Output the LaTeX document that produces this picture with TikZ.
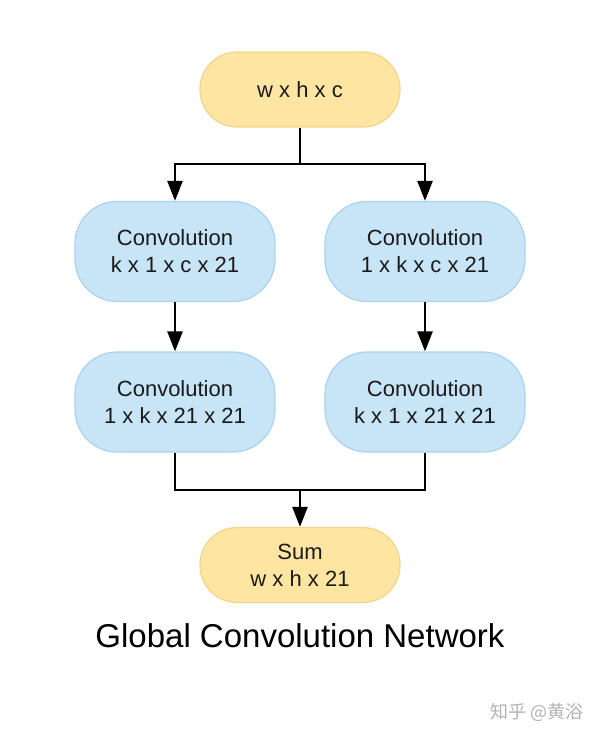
\documentclass[tikz,border=0pt]{standalone}
\usepackage{fontspec}
\setmainfont{Liberation Sans}
\newfontfamily\cjkfont{Noto Sans CJK SC}
\usetikzlibrary{arrows.meta}

\definecolor{sizefill}{HTML}{FEE6A2}
\definecolor{sizeline}{HTML}{F3D48C}
\definecolor{convfill}{HTML}{C8E4F7}
\definecolor{convline}{HTML}{AAD3EE}
\definecolor{textdark}{HTML}{1A1A1A}

\tikzset{
  sizebox/.style={draw=sizeline,fill=sizefill,line width=1.2pt,rounded corners=37pt,
    minimum width=200pt,minimum height=75pt,align=center,text=textdark,
    font=\fontsize{22}{27}\selectfont},
  convbox/.style={draw=convline,fill=convfill,line width=1.2pt,rounded corners=42pt,
    minimum width=200pt,minimum height=100pt,align=center,text=textdark,
    font=\fontsize{22}{27}\selectfont},
  link/.style={line width=2.5pt,-{Triangle[length=20pt,width=15pt]}},
  wire/.style={line width=2.5pt}
}

\begin{document}
\begin{tikzpicture}[x=1pt,y=1pt]
        \useasboundingbox (0,0) rectangle (600,-736);

        \node[sizebox] (in) at (300,-89.5) {w x h x c};

        \node[convbox] (k1) at (175,-251.5) {Convolution\\k x 1 x c x 21};
        \node[convbox] (k2) at (425,-251.5) {Convolution\\1 x k x c x 21};
        \node[convbox] (k3) at (175,-402) {Convolution\\1 x k x 21 x 21};
        \node[convbox] (k4) at (425,-402) {Convolution\\k x 1 x 21 x 21};

        \node[sizebox] (sum) at (300,-565) {Sum\\w x h x 21};

        \node (title) at (300,-636) {\fontsize{33}{40}\selectfont Global Convolution Network};
        \node[text=black!30] (mark) at (537,-712) {\cjkfont\fontsize{18}{22}\selectfont 知乎 @黄浴};

        \coordinate (split) at (300,-164);
        \coordinate (join) at (300,-490);

        \draw[wire] (in) to (split);
        \draw[link] (split) -| (k1);
        \draw[link] (split) -| (k2);

        \draw[link] (k1) to (k3);
        \draw[link] (k2) to (k4);

        \draw[wire] (k3.south) |- (join);
        \draw[wire] (k4.south) |- (join);
        \draw[link] (join) to (sum);
      \end{tikzpicture}
\end{document}
